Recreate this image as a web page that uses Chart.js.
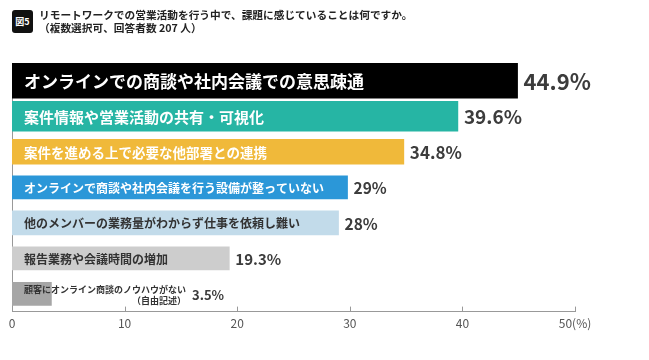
<!DOCTYPE html>
<html>
<head>
<meta charset="utf-8">
<script src="https://cdn.jsdelivr.net/npm/chart.js@4"></script>
<style>
  html, body { margin: 0; padding: 0; background: #fff; }
  body { width: 649px; height: 360px; position: relative; overflow: hidden; font-family: "Noto Sans CJK JP", sans-serif; }
  #badge { position: absolute; left: 12px; top: 10px; width: 21px; height: 23px; background: #111; border-radius: 3px;
           color: #fff; font-size: 9px; font-weight: bold; line-height: 23px; text-align: center; }
  #title { position: absolute; left: 39px; top: 8px; font-size: 10.7px; font-weight: bold; line-height: 13px; color: #222; white-space: nowrap; }
  #wrap { position: absolute; left: 0; top: 0; width: 649px; height: 360px; }
</style>
</head>
<body>
<div id="wrap"><canvas id="chart" width="649" height="360"></canvas></div>
<div id="badge">図5</div>
<div id="title">リモートワークでの営業活動を行う中で、課題に感じていることは何ですか。<br>（複数選択可、回答者数 207 人）</div>
<script>
// data
const categories = [
  ['オンラインでの商談や社内会議での意思疎通'],
  ['案件情報や営業活動の共有・可視化'],
  ['案件を進める上で必要な他部署との連携'],
  ['オンラインで商談や社内会議を行う設備が整っていない'],
  ['他のメンバーの業務量がわからず仕事を依頼し難い'],
  ['報告業務や会議時間の増加'],
  ['顧客にオンライン商談のノウハウがない', '（自由記述）']
];
const values = [44.9, 39.6, 34.8, 29.8, 29.0, 19.3, 3.5];
const valueLabels = ['44.9%', '39.6%', '34.8%', '29%', '28%', '19.3%', '3.5%'];
const xTicks = [0, 10, 20, 30, 40, 50];

// styles
const barColors = ['#000000', '#26b5a4', '#f0b93a', '#2b97d8', '#c2dbea', '#cdcdcd', '#a6a6a6'];
const textColors = ['#ffffff', '#ffffff', '#ffffff', '#ffffff', '#333333', '#333333', '#333333'];
const textSizes = [17, 15, 13.5, 12, 12, 12, 9];
const valueSizes = [22, 19, 17, 15.5, 15.5, 15, 13];
const thickness = [35, 30, 25, 23, 24, 23, 23];
const FONT = '"Noto Sans CJK JP", "Noto Sans", sans-serif';

// one dataset per bar so every bar can have its own thickness
const datasets = values.map((v, i) => ({
  data: values.map((w, j) => (j === i ? v : null)),
  backgroundColor: barColors[i],
  barThickness: thickness[i]
}));

const barLabels = {
  id: 'barLabels',
  afterDatasetsDraw(chart) {
    const ctx = chart.ctx;
    const left = chart.chartArea.left;
    ctx.save();
    ctx.textBaseline = 'middle';
    values.forEach((v, i) => {
      const bar = chart.getDatasetMeta(i).data[i];
      const lines = categories[i];
      ctx.fillStyle = textColors[i];
      ctx.font = 'bold ' + textSizes[i] + 'px ' + FONT;
      ctx.textAlign = 'left';
      let endX;
      if (lines.length === 1) {
        ctx.fillText(lines[0], left + 12, bar.y + 1);
        endX = bar.x;
      } else {
        const w = ctx.measureText(lines[0]).width;
        ctx.fillText(lines[0], left + 12, bar.y - 4);
        ctx.textAlign = 'right';
        ctx.fillText(lines[1], left + 12 + w, bar.y + 6.5);
        endX = left + 12 + w;
      }
      ctx.fillStyle = '#3c3c3c';
      ctx.textAlign = 'left';
      ctx.font = 'bold ' + valueSizes[i] + 'px ' + FONT;
      ctx.fillText(valueLabels[i], endX + 6, bar.y + 1);
    });
    ctx.restore();
  }
};

// small tick marks pointing up from the x axis
const upTicks = {
  id: 'upTicks',
  afterDraw(chart) {
    const ctx = chart.ctx;
    const xs = chart.scales.x;
    const y = chart.chartArea.bottom;
    ctx.save();
    ctx.strokeStyle = '#999';
    ctx.lineWidth = 1;
    xTicks.slice(1).forEach(t => {
      const x = Math.round(xs.getPixelForValue(t)) + 0.5;
      ctx.beginPath();
      ctx.moveTo(x, y);
      ctx.lineTo(x, y - 5);
      ctx.stroke();
    });
    ctx.restore();
  }
};

new Chart(document.getElementById('chart'), {
  type: 'bar',
  data: { labels: categories.map(c => c.join('')), datasets: datasets },
  options: {
    indexAxis: 'y',
    responsive: false,
    animation: false,
    layout: { padding: { top: 63, left: 12, right: 74, bottom: 24 } },
    plugins: { legend: { display: false }, tooltip: { enabled: false } },
    scales: {
      x: {
        stacked: true,
        min: 0,
        max: 50,
        afterBuildTicks: scale => { scale.ticks = xTicks.map(v => ({ value: v })); },
        grid: { display: false, drawTicks: false },
        border: { display: true, color: '#999', width: 1 },
        ticks: {
          color: '#555',
          padding: 5,
          font: { family: FONT, size: 12 },
          callback: v => (v === 50 ? '50(%)' : v)
        }
      },
      y: {
        stacked: true,
        grid: { display: false, drawTicks: false },
        border: { display: true, color: '#999', width: 1 },
        ticks: { display: false, padding: 0 }
      }
    }
  },
  plugins: [barLabels, upTicks]
});
</script>
</body>
</html>
